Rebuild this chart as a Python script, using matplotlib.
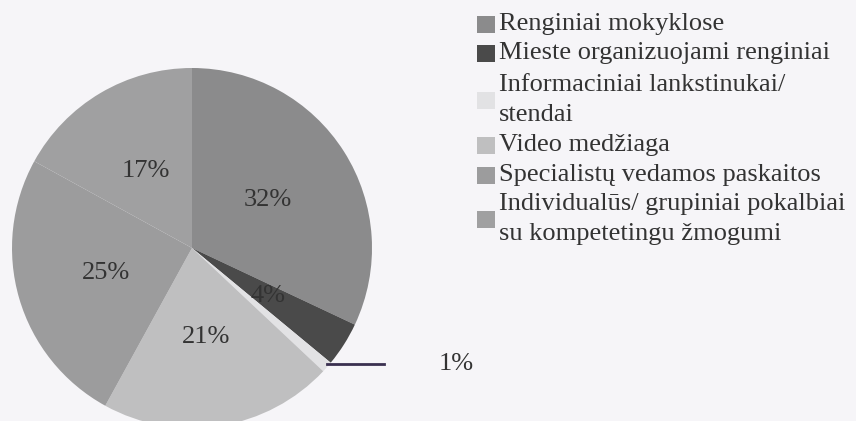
import matplotlib
matplotlib.use("Agg")
import matplotlib.pyplot as plt
from matplotlib.patches import Rectangle
import numpy as np

categories = [
    "Renginiai mokyklose",
    "Mieste organizuojami renginiai",
    "Informaciniai lankstinukai/\nstendai",
    "Video medžiaga",
    "Specialistų vedamos paskaitos",
    "Individualūs/ grupiniai pokalbiai\nsu kompetetingu žmogumi",
]
values = [32, 4, 1, 21, 25, 17]
pct_labels = ["32%", "4%", "1%", "21%", "25%", "17%"]
colors = ["#8b8b8c", "#4a4a4a", "#e2e2e4", "#bfbfc0", "#9c9c9d", "#a0a0a1"]

W, H = 856, 421
bg = "#f6f5f8"
fig = plt.figure(figsize=(W / 100, H / 100), dpi=100, facecolor=bg)
ax = fig.add_axes([0, 0, 1, 1])
ax.set_facecolor(bg)

cx, cy, r = 192, H - 248, 180
wedges, _ = ax.pie(values, colors=colors, startangle=90, counterclock=False,
                   center=(cx, cy), radius=r, frame=True,
                   wedgeprops=dict(linewidth=0))

font = "Liberation Serif"
tcol = "#333333"
fs = 19
for w, lab in zip(wedges, pct_labels):
    ang = np.deg2rad((w.theta1 + w.theta2) / 2)
    if lab == "1%":
        ex, ey = cx + r * np.cos(ang), cy + r * np.sin(ang)
        ax.plot([ex, ex + 57], [ey + 3, ey + 3], color="#3a3050", lw=2)
        ax.text(456, ey + 3, lab, ha="center", va="center", fontsize=fs,
                family=font, color=tcol)
    else:
        ax.text(cx + 0.5 * r * np.cos(ang), cy + 0.5 * r * np.sin(ang), lab,
                ha="center", va="center", fontsize=fs, family=font, color=tcol)

# legend
legend_y = [24, 53, 100, 145, 175, 219]
for c, lab, y in zip(colors, categories, legend_y):
    yy = H - y
    ax.add_patch(Rectangle((477, yy - 9), 18, 17, facecolor=c, edgecolor="none"))
    ax.text(499, yy, lab, ha="left", va="center", fontsize=fs, family=font,
            color=tcol, linespacing=1.46)

ax.set_xlim(0, W)
ax.set_ylim(0, H)
ax.set_aspect("equal")
ax.axis("off")
fig.savefig("out.png", dpi=100, facecolor=bg)
